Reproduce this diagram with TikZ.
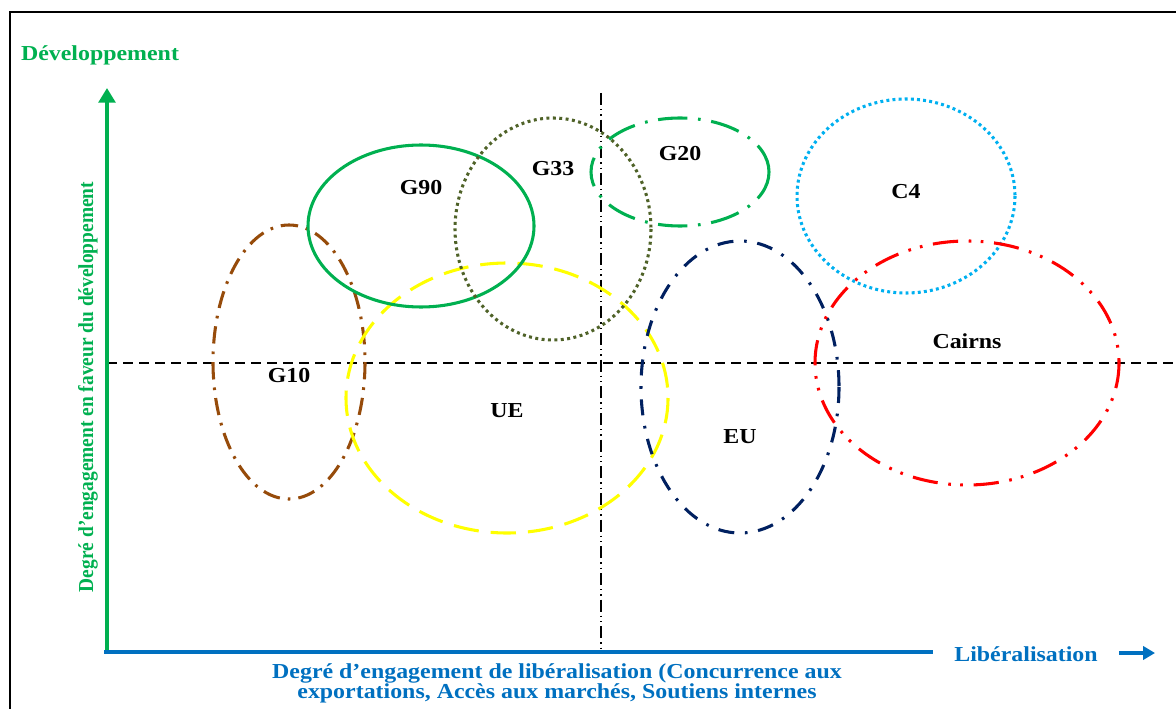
\documentclass[tikz,border=0pt]{standalone}
\usepackage{fontspec}
\setmainfont[FakeStretch=1.12]{Liberation Serif}
\newfontfamily\narrowserif[FakeStretch=0.91]{Liberation Serif}
\usepackage{tikz}
\usetikzlibrary{positioning, arrows.meta, calc}
\definecolor{axgreen}{RGB}{0, 176, 80}
\definecolor{axblue}{RGB}{0, 112, 192}
\definecolor{brown2}{RGB}{150, 75, 10}
\definecolor{olive2}{RGB}{79, 98, 40}
\definecolor{navy2}{RGB}{0, 32, 96}
\definecolor{sky2}{RGB}{0, 176, 240}
\definecolor{yellow2}{RGB}{255, 255, 0}
\definecolor{red2}{RGB}{255, 0, 0}
\tikzset{
  lbl/.style={font=\bfseries\fontsize{16}{15}\selectfont, inner sep=0pt},
  grp/.style={line width=2.3pt},
}
\begin{document}
\begin{tikzpicture}[x=0.75pt, y=-0.75pt]
    \useasboundingbox (0,0) rectangle (1176,709);
    % frame
    \draw[line width=1.6pt] (10,720) -- (10,12) -- (1190,12);

    % quadrant lines
    \draw[line width=1.1pt, dash pattern=on 7.5pt off 4.5pt] (107,363) -- (1190,363);
    \draw[line width=1.1pt, dash pattern=on 9pt off 3pt on 1pt off 3pt on 1pt off 3pt] (601,93) -- (601,652);

    % groups
	\draw[grp, brown2, dash pattern=on 13pt off 6pt on 2pt off 6pt] (289,362) ellipse (76 and 137);
	\draw[grp, yellow2, dash pattern=on 19pt off 9pt] (507,398) ellipse (161 and 135);
	\draw[grp, axgreen] (421,226) ellipse (113 and 81);
	\draw[grp, olive2, dash pattern=on 2.2pt off 2.6pt] (553,229) ellipse (98 and 111);
	\draw[grp, axgreen, dash pattern=on 22pt off 8pt on 2pt off 8pt] (680,172) ellipse (89 and 54);
	\draw[grp, sky2, dash pattern=on 2.2pt off 2.4pt] (906,196) ellipse (109 and 97);
	\draw[grp, navy2, dash pattern=on 12pt off 8pt on 2pt off 8pt] (740,387) ellipse (99 and 146);
	\draw[grp, red2, dash pattern=on 19pt off 8pt on 2pt off 7pt on 2pt off 8pt] (967,363) ellipse (152 and 122);

    \node[lbl] (g10) at (289,376) {G10};
    \node[lbl] (ue) at (507,411) {UE};
    \node[lbl] (g90) at (421,188) {G90};
    \node[lbl] (g33) at (553,169) {G33};
    \node[lbl] (g20) at (680,154) {G20};
    \node[lbl] (c4) at (906,192) {C4};
    \node[lbl] (eu) at (740,437) {EU};
    \node[lbl] (cairns) at (967,341) {Cairns};

    % axes
    \coordinate (o) at (104,652);
    \coordinate (ytip) at (107,88);
    \coordinate (xend) at (933,652);
    \draw[axgreen, line width=3.4pt, -{Triangle[length=11pt, width=12.5pt]}] (107,654) -- (ytip);
    \draw[axblue, line width=3.6pt] (o) -- (xend);

    \node[lbl, axgreen] (dev) at (100,55) {Développement};
    \node[lbl, axgreen, rotate=90, font=\narrowserif\bfseries\fontsize{16}{15}\selectfont] (ylab) at (88,387) {Degré d’engagement en faveur du développement};
    \node[lbl, axblue] (lib) at (1026,654) {Libéralisation};
    \coordinate (a1) at (1119,653);
    \coordinate (a2) at (1155,653);
    \draw[axblue, line width=3.6pt, -{Triangle[length=9pt, width=10pt]}] (a1) -- (a2);
    \node[lbl, axblue, align=center] (xlab) at (557,683) {Degré d’engagement de libéralisation (Concurrence aux\\exportations, Accès aux marchés, Soutiens internes};
\end{tikzpicture}
\end{document}
